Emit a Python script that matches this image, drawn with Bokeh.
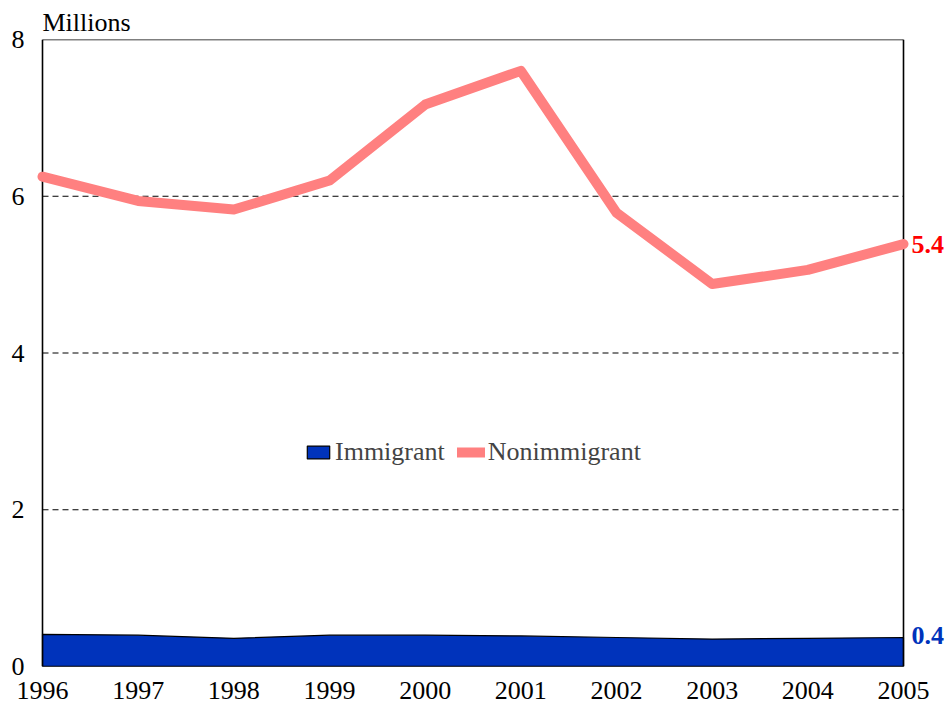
from bokeh.plotting import figure
from bokeh.models import Label, Legend, LegendItem, Range1d, FixedTicker, Title
from bokeh.embed import file_html
from bokeh.resources import INLINE

years = [1996, 1997, 1998, 1999, 2000, 2001, 2002, 2003, 2004, 2005]
nonimmigrant = [6.25, 5.94, 5.83, 6.20, 7.17, 7.60, 5.79, 4.88, 5.06, 5.39]
immigrant = [0.41, 0.40, 0.36, 0.40, 0.40, 0.39, 0.37, 0.35, 0.36, 0.37]
y_ticks = [0, 2, 4, 6, 8]
grid_ticks = [2, 4, 6]
end_labels = ["5.4", "0.4"]

FONT = "Liberation Serif"
RED = "#ff8080"
BLUE = "#0033bb"

# layout: 1996 sits at x=42px, 2005 at x=903px; frame widened so end labels and
# round line caps are not clipped
PX_PER_YEAR = (903 - 42) / (years[-1] - years[0])
LEFT_PAD_PX = 10
RIGHT_PAD_PX = 946 - 903
x0 = years[0] - LEFT_PAD_PX / PX_PER_YEAR
x1 = years[-1] + RIGHT_PAD_PX / PX_PER_YEAR
ymin, ymax = y_ticks[0], y_ticks[-1]

p = figure(width=946, height=708, output_backend="svg", toolbar_location=None,
           x_range=Range1d(x0, x1), y_range=Range1d(ymin, ymax),
           min_border_left=42 - LEFT_PAD_PX, min_border_right=0,
           min_border_top=39, min_border_bottom=42)
p.outline_line_color = None
p.background_fill_color = "white"
p.border_fill_color = "white"

p.add_layout(Title(text="Millions", text_font=FONT, text_font_size="26px",
                   text_font_style="normal", text_color="black",
                   align="left", standoff=5, offset=LEFT_PAD_PX), "above")

p.xgrid.grid_line_color = None
p.ygrid.grid_line_color = None

p.xaxis.ticker = FixedTicker(ticks=years)
p.yaxis.ticker = FixedTicker(ticks=y_ticks)
for ax in (p.xaxis, p.yaxis):
    ax.axis_line_color = None
    ax.major_tick_line_color = None
    ax.minor_tick_line_color = None
    ax.major_tick_out = 0
    ax.major_tick_in = 0
    ax.major_label_text_font = FONT
    ax.major_label_text_font_size = "26px"
    ax.major_label_text_color = "black"
p.yaxis.major_label_standoff = 8
p.xaxis.major_label_standoff = 15

# dashed gridlines between the frame edges
p.segment(x0=[years[0]] * len(grid_ticks), x1=[years[-1]] * len(grid_ticks),
          y0=grid_ticks, y1=grid_ticks, line_color="black", line_width=1, line_dash="6 4")

imm_xs = years + years[::-1]
imm_ys = immigrant + [0] * len(years)
area = p.patch(x=imm_xs, y=imm_ys, fill_color=BLUE, line_color="black", line_width=1.2)

# frame box
p.segment(x0=[years[0], years[0], years[-1], years[0]],
          x1=[years[0], years[-1], years[-1], years[-1]],
          y0=[ymin, ymax, ymin, ymin],
          y1=[ymax, ymax, ymax, ymin],
          line_color="black", line_width=1.6)

line = p.line(x=years, y=nonimmigrant, line_color=RED, line_width=10,
              line_cap="round", line_join="round")

legend = Legend(items=[LegendItem(label="Immigrant", renderers=[area]),
                       LegendItem(label="Nonimmigrant", renderers=[line])],
                orientation="horizontal", location=(262 + LEFT_PAD_PX, 199),
                label_text_font=FONT, label_text_font_size="26px",
                background_fill_alpha=0, border_line_color=None,
                glyph_width=28, glyph_height=16, spacing=12, label_standoff=3,
                padding=0, margin=0)
p.add_layout(legend, "center")

p.add_layout(Label(x=years[-1], y=nonimmigrant[-1], text=end_labels[0], text_font=FONT,
                   text_font_size="26px", text_font_style="bold", text_color="#ff0000",
                   text_baseline="middle", x_offset=8))
p.add_layout(Label(x=years[-1], y=immigrant[-1], text=end_labels[1], text_font=FONT,
                   text_font_size="26px", text_font_style="bold", text_color=BLUE,
                   text_baseline="middle", x_offset=8, y_offset=2))

open("out.html", "w").write(file_html(p, INLINE))
